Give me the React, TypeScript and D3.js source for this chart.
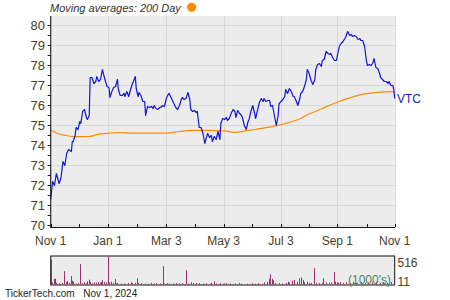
import React from "react";
import * as d3 from "d3";

const START = new Date(2023, 10, 1);
const END = new Date(2024, 10, 1);

const xTickDates = ["2023-11-01", "2024-01-01", "2024-03-03", "2024-05-03", "2024-07-03", "2024-09-01", "2024-11-01"];
const xTickLabels = ["Nov 1", "Jan 1", "Mar 3", "May 3", "Jul 3", "Sep 1", "Nov 1"];
const xMinorDates = ["2023-12-01", "2024-02-01", "2024-04-02", "2024-06-02", "2024-08-02", "2024-10-02"];
const yTickValues = [70, 71, 72, 73, 74, 75, 76, 77, 78, 79, 80];

// price: day offset from Nov 1 2023, close
const priceDays = [0,2,4,6,9,11,13,15,17,19,22,23,24,26,27,29,31,32,34,36,38,39,41,42,44,46,48,49,51,53,55,56,58,60,62,63,65,67,69,71,72,74,76,78,79,81,83,85,87,88,90,91,93,94,96,98,100,101,103,105,107,109,110,112,114,116,117,119,121,123,125,126,128,130,132,133,135,137,139,140,142,144,146,148,149,151,153,155,156,158,160,162,164,165,167,169,171,172,174,176,178,180,181,183,185,187,188,190,192,194,196,197,199,201,203,204,206,208,210,211,213,215,217,218,220,222,224,226,227,229,231,233,234,236,238,240,242,243,245,247,249,250,252,254,256,258,259,261,263,265,266,268,270,272,273,275,277,279,281,282,284,286,288,289,291,293,295,297,298,300,302,304,305,307,309,311,313,314,316,318,320,321,323,325,327,329,330,332,334,336,337,339,341,343,344,346,348,350,351,353,355,357,359,360,362,364,365,366];
const prices = [71.3,72.2,72.0,72.6,72.1,72.4,73.2,73.0,73.6,73.8,73.7,74.2,74.2,74.5,74.9,74.8,75.2,75.1,75.7,75.8,75.4,75.3,75.5,77.4,77.4,77.1,77.2,77.45,77.2,77.3,77.8,77.6,77.25,76.95,76.9,76.4,76.7,76.9,76.95,77.3,76.8,76.5,76.5,76.6,76.45,76.7,76.45,76.8,77.1,77.2,77.45,76.85,76.45,76.65,76.5,76.2,76.2,75.5,75.95,75.9,75.95,75.85,76.0,75.85,75.8,75.9,75.9,76.0,75.95,76.35,76.55,76.6,76.4,76.2,76.0,75.9,75.8,76.0,76.3,76.4,76.3,76.35,76.65,76.3,75.8,75.7,75.75,75.65,75.7,74.9,74.9,74.6,74.1,74.3,74.6,74.4,74.5,74.2,74.45,74.3,74.7,74.3,75.1,75.35,75.3,75.4,75.25,75.35,75.6,75.8,75.7,75.4,75.75,75.6,75.5,75.4,75.0,74.8,75.2,75.3,75.7,76.0,75.6,75.35,75.75,76.15,76.35,76.2,76.35,76.2,76.25,76.25,75.95,76.0,75.5,75.0,75.5,76.1,76.2,76.3,76.45,76.8,76.6,76.85,76.7,76.45,76.45,76.25,76.0,76.35,76.6,76.7,76.95,77.3,77.8,77.6,77.25,77.05,77.3,77.8,78.05,78.1,77.95,78.25,78.3,78.7,78.6,78.55,78.6,78.4,78.25,78.25,78.5,78.95,79.1,79.2,79.35,79.45,79.7,79.5,79.55,79.45,79.5,79.45,79.3,79.35,79.25,79.25,78.95,78.2,78.0,78.05,78.0,78.15,78.35,77.9,77.85,77.6,77.4,77.3,77.2,77.2,77.1,77.2,77.0,77.0,76.8,76.35];

// 200-day moving average
const maDays = [0,7,17,24,41,50,58,74,87,105,123,137,149,163,172,185,196,206,221,238,256,266,274,284,292,306,320,334,348,366];
const maValues = [74.77,74.6,74.5,74.44,74.45,74.56,74.6,74.65,74.62,74.62,74.62,74.7,74.76,74.76,74.75,74.73,74.66,74.72,74.83,74.97,75.19,75.35,75.56,75.75,75.92,76.19,76.41,76.58,76.66,76.69];

// volume (thousands)
const volDays = [0,1,3,5,6,9,12,14,16,17,19,22,23,24,27,29,31,33,35,38,39,41,42,44,46,48,50,52,54,55,57,59,61,62,64,66,68,69,71,75,78,82,85,87,90,92,93,96,100,103,107,110,112,116,119,121,124,126,130,133,137,140,144,146,149,151,155,158,162,165,169,171,174,176,180,183,184,187,191,196,200,203,209,214,217,221,225,227,230,232,233,235,237,239,243,246,250,252,254,257,259,262,264,266,268,270,273,275,277,280,282,285,289,290,293,296,298,301,303,305,306,308,311,314,318,322,326,330,334,338,342,346,350,354,358,362,365];
const volValues = [460,40,105,105,30,20,30,245,50,60,30,155,70,50,20,25,375,20,40,25,60,90,50,25,40,35,45,35,45,80,45,40,516,40,50,30,100,20,25,15,20,30,40,25,30,115,30,25,20,15,30,20,25,20,340,20,25,15,20,25,20,25,265,20,40,25,30,25,20,25,15,30,60,20,25,15,20,25,20,20,30,15,15,25,15,25,15,40,50,105,190,105,80,25,25,20,30,50,40,70,85,50,115,130,85,40,50,30,30,300,30,25,30,115,40,30,40,230,50,40,30,45,30,40,30,50,35,45,30,40,35,50,30,40,35,45,30];
const volMax = 516;
const volMinLabel = 11;

const TEXT = "#4a4026";
const FONT = "'Liberation Sans', Arial, sans-serif";

function dayDate(d: number) {
  return d3.timeDay.offset(START, d);
}

export default function App() {
  const W = 450, H = 300;
  const left = 50.7, right = 394.7, top = 16, bottom = 227;
  const vTop = 256, vBottom = 285;
  const parse = d3.timeParse("%Y-%m-%d");

  const x = d3.scaleTime().domain([START, END]).range([left, right]);
  const y = d3.scaleLinear().domain([69.925, 80.475]).range([bottom, top]);
  const yv = d3.scaleLinear().domain([0, volMax]).range([vBottom - 0.5, vTop + 0.5]);

  const pricePts = priceDays.map((d, i) => [x(dayDate(d)), y(prices[i])] as [number, number]);
  const maPts = maDays.map((d, i) => [x(dayDate(d)), y(maValues[i])] as [number, number]);
  const line = d3.line();
  const maLine = d3.line().curve(d3.curveMonotoneX);

  const halfTicks = d3.range(70, 80.01, 0.5);

  return (
    <svg width={W} height={H} style={{ position: "absolute", left: 0, top: 0, background: "#fff" }} fontFamily={FONT}>
      {/* title */}
      <text x={50} y={12} fontSize={11} fontStyle="italic" fill="#333">Moving averages: 200 Day</text>
      <circle cx={191.7} cy={7.3} r={4.6} fill="#ff8c00" />

      {/* main plot */}
      <rect x={left} y={top} width={right - left} height={bottom - top} fill="#ececec" />
      {yTickValues.map((v) => (
        <line key={"gy" + v} x1={left} x2={right} y1={Math.round(y(v)) + 0.5} y2={Math.round(y(v)) + 0.5} stroke="#d8d8d8" strokeWidth={1} />
      ))}
      {xTickDates.map((s) => {
        const xx = Math.round(x(parse(s)!)) + 0.5;
        return <line key={"gx" + s} x1={xx} x2={xx} y1={top} y2={bottom} stroke="#d8d8d8" strokeWidth={1} />;
      })}
      <path d={maLine(maPts) || ""} fill="none" stroke="#ff8c00" strokeWidth={1.2} />
      <path d={line(pricePts) || ""} fill="none" stroke="#1515d8" strokeWidth={1.2} strokeLinejoin="round" />

      {/* axes */}
      <line x1={left} x2={left} y1={top} y2={bottom + 0.5} stroke="#111" strokeWidth={1} />
      <line x1={left - 0.5} x2={right + 0.5} y1={bottom + 0.5} y2={bottom + 0.5} stroke="#111" strokeWidth={1} />
      {halfTicks.map((v) => (
        <line key={"yt" + v} x1={left - 3} x2={left} y1={Math.round(y(v)) + 0.5} y2={Math.round(y(v)) + 0.5} stroke="#111" strokeWidth={1} />
      ))}
      {[...xTickDates, ...xMinorDates].map((s) => {
        const xx = Math.round(x(parse(s)!)) + 0.5;
        return <line key={"xt" + s} x1={xx} x2={xx} y1={bottom - 3} y2={bottom} stroke="#111" strokeWidth={1} />;
      })}
      {yTickValues.map((v) => (
        <text key={"yl" + v} x={45} y={y(v)} dy="0.35em" textAnchor="end" fontSize={13} fill={TEXT}>{v}</text>
      ))}
      {xTickDates.map((s, i) => (
        <text key={"xl" + s} x={x(parse(s)!)} y={245} textAnchor="middle" fontSize={12} fill={TEXT}>{xTickLabels[i]}</text>
      ))}
      <text x={397} y={y(prices[prices.length - 1])} dy="0.35em" fontSize={12} fill="#2020d0">VTC</text>

      {/* volume panel */}
      <rect x={left} y={vTop} width={right - left} height={vBottom - vTop} fill="#ececec" stroke="#111" strokeWidth={1} />
      {volDays.map((d, i) => {
        const xx = Math.round(x(dayDate(d)));
        return <rect key={"v" + i} x={xx} y={yv(volValues[i])} width={1} height={vBottom - 0.5 - yv(volValues[i])} fill="#99336b" />;
      })}
      <text x={348} y={284} fontSize={12} fill="#4e7f5e">(1000's)</text>
      <text x={397.5} y={yv(volMax) + 6} dy="0.35em" fontSize={12} fill={TEXT}>{volMax}</text>
      <text x={397.5} y={281.7} dy="0.35em" fontSize={12} fill={TEXT}>{volMinLabel}</text>

      {/* footer */}
      <text x={5} y={297} fontSize={10} fill="#222">TickerTech.com</text>
      <text x={83.3} y={297} fontSize={10} fill="#222">Nov 1, 2024</text>
    </svg>
  );
}
